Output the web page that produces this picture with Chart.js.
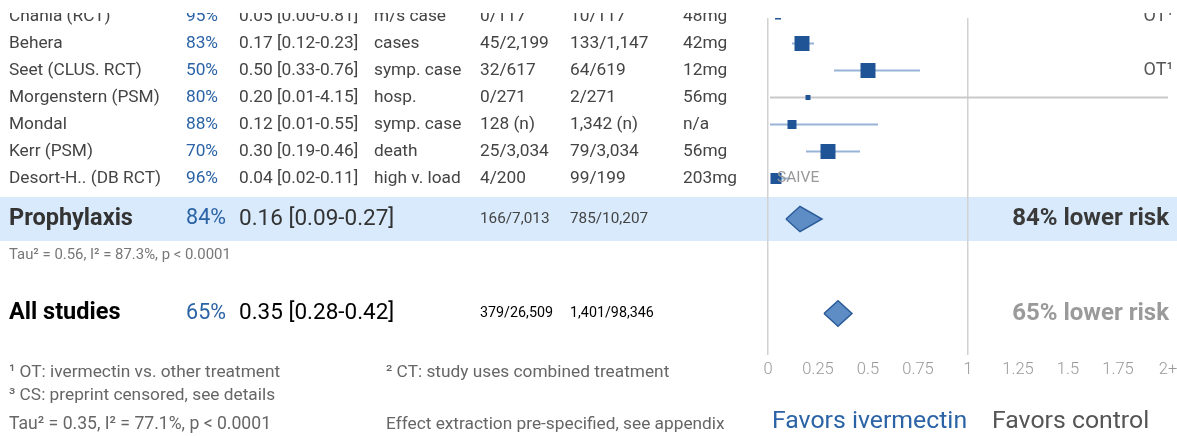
<!DOCTYPE html>
<html>
<head>
<meta charset="utf-8">
<script src="https://cdn.jsdelivr.net/npm/chart.js@4.4.1/dist/chart.umd.min.js"></script>
<style>
  html, body { margin: 0; padding: 0; background: #fff; }
  #wrap { width: 1177px; height: 436px; }
</style>
</head>
<body>
<div id="wrap"><canvas id="chart" width="1177" height="436"></canvas></div>
<script>
// study rows (prophylaxis group, top rows cut off in the picture)
const studies = ['Chahla (RCT)', 'Behera', 'Seet (CLUS. RCT)', 'Morgenstern (PSM)', 'Mondal', 'Kerr (PSM)', 'Desort-H.. (DB RCT)'];
const improvement = ['95%', '83%', '50%', '80%', '88%', '70%', '96%'];
const rr = [0.05, 0.17, 0.50, 0.20, 0.12, 0.30, 0.04];
const rrLow = [0.00, 0.12, 0.33, 0.01, 0.01, 0.19, 0.02];
const rrHigh = [0.81, 0.23, 0.76, 4.15, 0.55, 0.46, 0.11];
const outcome = ['m/s case', 'cases', 'symp. case', 'hosp.', 'symp. case', 'death', 'high v. load'];
const treated = ['0/117', '45/2,199', '32/617', '0/271', '128 (n)', '25/3,034', '4/200'];
const control = ['10/117', '133/1,147', '64/619', '2/271', '1,342 (n)', '79/3,034', '99/199'];
const dose = ['48mg', '42mg', '12mg', '56mg', 'n/a', '56mg', '203mg'];
const notes = ['OT¹', '', 'OT¹', '', '', '', ''];
const tags = ['', '', '', '', '', '', 'SAIVE'];
const weight = [6, 15, 15, 5, 9, 15, 11];

// pooled results
const pooledNames = ['Prophylaxis', 'All studies'];
const pooledImprovement = ['84%', '65%'];
const pooledRR = [0.16, 0.35];
const pooledLow = [0.09, 0.28];
const pooledHigh = [0.27, 0.42];
const pooledTreated = ['166/7,013', '379/26,509'];
const pooledControl = ['785/10,207', '1,401/98,346'];
const pooledStats = ['Tau² = 0.56, I² = 87.3%, p < 0.0001', ''];

// x axis
const xTicks = [0, 0.25, 0.5, 0.75, 1, 1.25, 1.5, 1.75, 2];
const xTickLabels = ['0', '0.25', '0.5', '0.75', '1', '1.25', '1.5', '1.75', '2+'];

// row slots on the y scale (one unit = one study row)
const pooledRows = [7.5, 11];
const ROW_PX = 27;
const ROW0_PX = 16.5;
const TOP_PX = 18;

const BLUE = '#2b63a6';
const FONT = 'Roboto, "Noto Sans", sans-serif';

const datasets = [];

// confidence interval lines
studies.forEach((s, i) => {
    datasets.push({
        data: [{x: rrLow[i], y: i}, {x: rrHigh[i], y: i}],
        showLine: true,
        pointRadius: 0,
        borderWidth: 2,
        borderColor: rrHigh[i] > 2 ? '#c9c9c9' : '#98b3d8',
        order: 3
    });
});

// study squares
datasets.push({
    data: rr.map((v, i) => ({x: v, y: i})),
    pointStyle: 'rect',
    pointRadius: weight.map(w => w / Math.SQRT2),
    backgroundColor: '#1f5596',
    borderColor: '#1f5596',
    borderWidth: 0,
    order: 1
});

// pooled diamonds
pooledRR.forEach((v, i) => {
    const y = pooledRows[i];
    const h = 0.47;
    datasets.push({
        data: [
            {x: pooledLow[i], y: y},
            {x: v, y: y - h},
            {x: pooledHigh[i], y: y},
            {x: v, y: y + h},
            {x: pooledLow[i], y: y}
        ],
        showLine: true,
        pointRadius: 0,
        fill: 'shape',
        backgroundColor: '#5e8dc6',
        borderColor: '#2a5b98',
        borderWidth: 1.5,
        order: 2
    });
});

const bandPlugin = {
    id: 'band',
    beforeDraw(chart) {
        const c = chart.ctx;
        const y = chart.scales.y.getPixelForValue(pooledRows[0]);
        c.save();
        c.fillStyle = '#d8eafb';
        c.fillRect(0, y - 22, chart.width, 44);
        c.restore();
    }
};

function txt(c, s, x, y, font, color, align) {
    c.font = font;
    c.fillStyle = color;
    c.textAlign = align || 'left';
    c.fillText(s, x, y);
}

const textPlugin = {
    id: 'tableText',
    afterDraw(chart) {
        const c = chart.ctx;
        const ys = chart.scales.y;
        const xs = chart.scales.x;
        c.save();
        c.textBaseline = 'middle';

        studies.forEach((s, i) => {
            const y = ys.getPixelForValue(i);
            const f = '17.3px ' + FONT;
            txt(c, s, 9, y, f, '#444');
            txt(c, improvement[i], 218, y, f, BLUE, 'right');
            txt(c, `${rr[i].toFixed(2)} [${rrLow[i].toFixed(2)}-${rrHigh[i].toFixed(2)}]`, 239, y, f, '#444');
            txt(c, outcome[i], 374, y, f, '#444');
            txt(c, treated[i], 480, y, f, '#444');
            txt(c, control[i], 570, y, f, '#444');
            txt(c, dose[i], 683, y, f, '#444');
            if (notes[i]) txt(c, notes[i], 1173, y, '18px ' + FONT, '#555', 'right');
            if (tags[i]) txt(c, tags[i], xs.getPixelForValue(rr[i]) + 1, y, '15.5px ' + FONT, '#999');
        });

        pooledNames.forEach((s, i) => {
            const y = ys.getPixelForValue(pooledRows[i]);
            const first = i === 0;
            txt(c, s, 9, y, 'bold 23.5px ' + FONT, first ? '#333' : '#000');
            txt(c, pooledImprovement[i], 226, y, '21.5px ' + FONT, BLUE, 'right');
            txt(c, `${pooledRR[i].toFixed(2)} [${pooledLow[i].toFixed(2)}-${pooledHigh[i].toFixed(2)}]`, 239, y, '22.5px ' + FONT, first ? '#333' : '#000');
            const cf = (first ? '15.3px ' : '14.3px ') + FONT;
            txt(c, pooledTreated[i], 480, y, cf, first ? '#444' : '#000');
            txt(c, pooledControl[i], 570, y, cf, first ? '#444' : '#000');
            txt(c, pooledImprovement[i] + ' lower risk', 1169, y, 'bold 24px ' + FONT, first ? '#3a3a3a' : '#9a9a9a', 'right');
            if (pooledStats[i]) txt(c, pooledStats[i], 9, y + 36, '14.9px ' + FONT, '#777');
        });

        // footnotes
        const fn = '17.3px ' + FONT;
        txt(c, '¹ OT: ivermectin vs. other treatment', 9, 373, fn, '#666');
        txt(c, '³ CS: preprint censored, see details', 9, 396, fn, '#666');
        txt(c, 'Tau² = 0.35, I² = 77.1%, p < 0.0001', 9, 425, '17.6px ' + FONT, '#666');
        txt(c, '² CT: study uses combined treatment', 386, 373, fn, '#666');
        txt(c, 'Effect extraction pre-specified, see appendix', 386, 425, fn, '#666');
        txt(c, 'Favors ivermectin', 772, 422, '24.8px ' + FONT, BLUE);
        txt(c, 'Favors control', 992, 422, '24.8px ' + FONT, '#555');

        // page cut at the top
        c.fillStyle = '#fff';
        c.fillRect(0, 0, chart.width, 13);
        c.restore();
    }
};

new Chart(document.getElementById('chart'), {
    type: 'scatter',
    data: { datasets: datasets },
    options: {
        responsive: false,
        animation: false,
        events: [],
        layout: { autoPadding: false, padding: { left: 768, right: 9, top: TOP_PX, bottom: 0 } },
        plugins: { legend: { display: false }, tooltip: { enabled: false } },
        scales: {
            x: {
                type: 'linear',
                min: 0,
                max: 2,
                afterBuildTicks: s => { s.ticks = xTicks.map(v => ({value: v})); },
                afterFit: s => { s.height = 81; s.paddingLeft = 0; s.paddingRight = 0; },
                ticks: {
                    padding: 5,
                    color: '#999',
                    font: { family: FONT, size: 16.5, weight: 300 },
                    callback: v => xTickLabels[xTicks.indexOf(v)]
                },
                grid: {
                    drawTicks: false,
                    lineWidth: 1.5,
                    color: ctx => (ctx.tick && (ctx.tick.value === 0 || ctx.tick.value === 1)) ? '#d2d2d2' : 'rgba(0,0,0,0)'
                },
                border: { display: false }
            },
            y: {
                type: 'linear',
                display: false,
                reverse: true,
                min: (TOP_PX - ROW0_PX) / ROW_PX,
                max: (355 - ROW0_PX) / ROW_PX
            }
        }
    },
    plugins: [bandPlugin, textPlugin]
});
</script>
</body>
</html>
